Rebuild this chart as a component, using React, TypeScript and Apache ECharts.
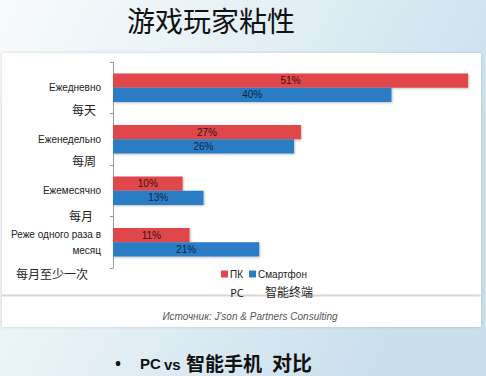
import React, { useEffect, useRef } from "react";
import * as echarts from "echarts";

const categories = ["Ежедневно", "Еженедельно", "Ежемесячно", "Реже одного раза в\nмесяц"];
const cnCategories = ["每天", "每周", "每月", "每月至少一次"];
const pcValues = [51, 27, 10, 11];
const phoneValues = [40, 26, 13, 21];
const seriesNames = ["ПК", "Смартфон"];
const seriesCn = ["PC", "智能终端"];
const title = "游戏玩家粘性";
const source = "Источник: J'son & Partners Consulting";

export default function App() {
  const ref = useRef<HTMLDivElement>(null);
  useEffect(() => {
    document.body.style.margin = "0";
    const chart = echarts.init(ref.current!, null, { renderer: "svg" });
    const cnPos = [
      [84, 109],
      [84, 160],
      [81, 215],
      [52, 273],
    ];
    chart.setOption({
      animation: false,
      backgroundColor: new echarts.graphic.LinearGradient(0, 0, 1, 0.4, [
        { offset: 0, color: "#f8fbfc" },
        { offset: 0.5, color: "#e3eff5" },
        { offset: 1, color: "#c9dfec" },
      ]),
      graphic: [
        {
          type: "rect",
          z: -10,
          shape: { x: 2, y: 53, width: 479, height: 274 },
          style: { fill: "#ffffff", shadowBlur: 3, shadowColor: "rgba(0,0,0,0.15)" },
        },
        {
          type: "line",
          z: -9,
          shape: { x1: 2, y1: 295.5, x2: 481, y2: 295.5 },
          style: { stroke: "#d8d8d8", lineWidth: 2 },
        },
        {
          type: "text",
          x: 211,
          y: 20,
          style: {
            text: title,
            font: '28px "Noto Sans CJK SC"',
            fill: "#111",
            align: "center",
            verticalAlign: "middle",
          },
        },
        ...cnCategories.map((t, i) => ({
          type: "text",
          x: cnPos[i][0],
          y: cnPos[i][1],
          style: {
            text: t,
            font: '12px "Noto Sans CJK SC"',
            fill: "#222",
            align: "center",
            verticalAlign: "middle",
          },
        })),
        {
          type: "text",
          x: 237,
          y: 292,
          style: { text: seriesCn[0], font: '11px "Noto Sans"', fill: "#222", align: "center", verticalAlign: "middle" },
        },
        {
          type: "text",
          x: 289,
          y: 291,
          style: { text: seriesCn[1], font: '12px "Noto Sans CJK SC"', fill: "#222", align: "center", verticalAlign: "middle" },
        },
        {
          type: "text",
          x: 250,
          y: 316,
          style: {
            text: source,
            font: 'italic 10px "Liberation Sans"',
            fill: "#555",
            align: "center",
            verticalAlign: "middle",
          },
        },
        {
          type: "text",
          x: 118,
          y: 363,
          style: { text: "•", font: 'bold 16px "Noto Sans"', fill: "#111", align: "center", verticalAlign: "middle" },
        },
        {
          type: "text",
          x: 140,
          y: 363,
          style: { text: "PC", font: 'bold 15px "Liberation Sans"', fill: "#111", align: "left", verticalAlign: "middle" },
        },
        {
          type: "text",
          x: 164,
          y: 364,
          style: { text: "vs", font: 'bold 15px "Liberation Sans"', fill: "#111", align: "left", verticalAlign: "middle" },
        },
        {
          type: "text",
          x: 186,
          y: 362,
          style: { text: "智能手机", font: 'bold 19px "Noto Sans CJK SC"', fill: "#111", align: "left", verticalAlign: "middle" },
        },
        {
          type: "text",
          x: 272,
          y: 362,
          style: { text: "对比", font: 'bold 20px "Noto Sans CJK SC"', fill: "#111", align: "left", verticalAlign: "middle" },
        },
      ],
      legend: {
        left: 216,
        top: 264,
        itemWidth: 7,
        itemHeight: 7,
        itemGap: 6,
        icon: "rect",
        data: seriesNames,
        textStyle: { fontSize: 10, color: "#222", fontFamily: "Liberation Sans", padding: [0, 0, 0, -3] },
      },
      grid: { left: 113, top: 62, width: 362, height: 206, containLabel: false },
      xAxis: {
        type: "value",
        min: 0,
        max: 52,
        show: false,
      },
      yAxis: {
        type: "category",
        inverse: true,
        data: categories,
        axisLine: { show: true, lineStyle: { color: "#999" } },
        axisTick: { show: true, length: 3, lineStyle: { color: "#999" } },
        axisLabel: {
          fontSize: 10,
          color: "#222",
          fontFamily: "Liberation Sans",
          margin: 12,
          lineHeight: 16,
          align: "right",
        },
        splitLine: { show: false },
      },
      series: [
        {
          name: seriesNames[0],
          type: "bar",
          data: pcValues,
          barGap: "0%",
          barCategoryGap: "45%",
          itemStyle: { color: "#e0474c", shadowBlur: 2, shadowColor: "rgba(0,0,0,0.25)", shadowOffsetX: 1, shadowOffsetY: 1 },
          label: {
            show: true,
            position: "inside",
            formatter: "{c}%",
            fontSize: 10,
            color: "#3a1010",
            fontFamily: "Liberation Sans",
          },
        },
        {
          name: seriesNames[1],
          type: "bar",
          data: phoneValues,
          itemStyle: { color: "#2a7cc4", shadowBlur: 2, shadowColor: "rgba(0,0,0,0.25)", shadowOffsetX: 1, shadowOffsetY: 1 },
          label: {
            show: true,
            position: "inside",
            formatter: "{c}%",
            fontSize: 10,
            color: "#0d2545",
            fontFamily: "Liberation Sans",
          },
        },
      ],
    });
    return () => chart.dispose();
  }, []);
  return <div ref={ref} style={{ position: "fixed", left: 0, top: 0, width: 486, height: 376 }} />;
}
